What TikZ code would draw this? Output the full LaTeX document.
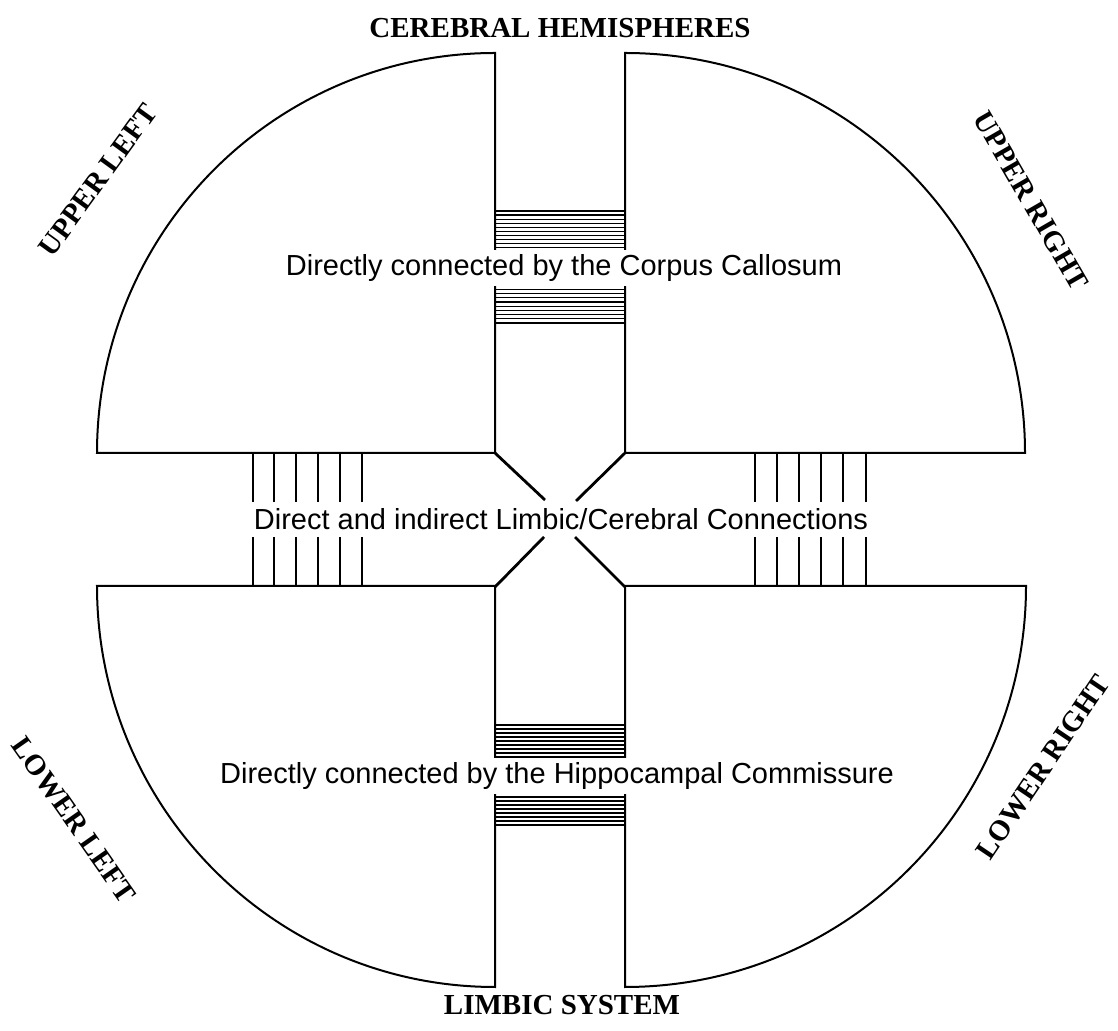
\documentclass[tikz,border=0pt]{standalone}
\usepackage{fontspec}
\setmainfont{Liberation Serif}
\setsansfont{Liberation Sans}
\begin{document}
\begin{tikzpicture}[x=1pt,y=1pt,
  outline/.style={line width=2pt,line join=miter},
  thick bar/.style={line width=2.8pt},
  stripe/.style={line width=1.2pt},
  inner/.style={font=\sffamily\fontsize{29}{32}\selectfont,fill=white,inner xsep=3pt,inner ysep=4pt},
  region/.style={font=\bfseries\fontsize{29}{32}\selectfont,inner sep=0pt}]
\useasboundingbox (0,0) rectangle (1118,1030);
% quadrants
\draw[outline] (495,577) -- (97,577) arc[start angle=180,end angle=90,x radius=398,y radius=400] -- cycle;
\draw[outline] (625,577) -- (625,977) arc[start angle=90,end angle=0,x radius=400,y radius=400] -- cycle;
\draw[outline] (495,444) -- (97,444) arc[start angle=180,end angle=270,x radius=398,y radius=401] -- cycle;
\draw[outline] (625,444) -- (1026,444) arc[start angle=0,end angle=-90,x radius=401,y radius=401] -- cycle;
% corpus callosum stripes
\foreach \k in {0,...,10}{\draw[stripe] (495,{778+\k*4.1}) -- (625,{778+\k*4.1});}
\foreach \k in {0,...,9}{\draw[stripe] (495,{707+\k*4.2}) -- (625,{707+\k*4.2});}
% hippocampal commissure stripes
\foreach \k in {0,...,8}{\draw[stripe] (495,{273+\k*4.0}) -- (625,{273+\k*4.0});}
\foreach \k in {0,...,8}{\draw[stripe] (495,{205+\k*4.0}) -- (625,{205+\k*4.0});}
% central X
\draw[thick bar] (495,577) -- (545,530);
\draw[thick bar] (625,577) -- (576,529);
\draw[thick bar] (544,493) -- (495,443);
\draw[thick bar] (575,493) -- (625,443);
% vertical bars
\foreach \x in {253,274,296,318,340,362,755,777,799,821,843,866}{
  \draw[thick bar] (\x,577) -- (\x,528);
  \draw[thick bar] (\x,493) -- (\x,443);
}
% texts
\node[inner] (cc) at (564,762) {Directly connected by the Corpus Callosum};
\node[inner] (lc) at (561,511) {Direct and indirect Limbic/Cerebral Connections};
\node[inner] (hc) at (557,254) {Directly connected by the Hippocampal Commissure};
\node[region] (ch) at (560,1002) {CEREBRAL HEMISPHERES};
\node[region] (ls) at (562,25) {LIMBIC SYSTEM};
\node[region,rotate=54] (ul) at (98,850) {UPPER LEFT};
\node[region,rotate=-60] (ur) at (1031,829) {UPPER RIGHT};
\node[region,rotate=-55] (ll) at (74,210) {LOWER LEFT};
\node[region,rotate=56] (lr) at (1043,263) {LOWER RIGHT};
\end{tikzpicture}
\end{document}
